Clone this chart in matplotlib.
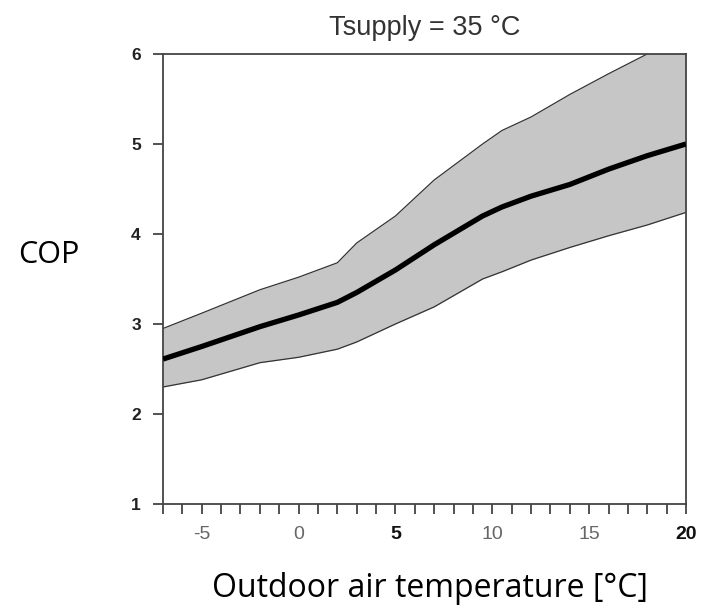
# -*- coding: utf-8 -*-
import numpy as np
import matplotlib
matplotlib.use('Agg')
import matplotlib.pyplot as plt

# outdoor temperature [°C] and COP band
t_out = [-7, -5, -2, 0, 2, 3, 5, 7, 9.5, 10.5, 12, 14, 16, 18, 20]
cop_upper = [2.95, 3.12, 3.38, 3.52, 3.68, 3.9, 4.2, 4.6, 5.0, 5.15, 5.3, 5.55, 5.78, 6.0, 6.3]
cop_mean = [2.61, 2.75, 2.97, 3.1, 3.24, 3.35, 3.6, 3.88, 4.2, 4.3, 4.42, 4.55, 4.72, 4.87, 5.0]
cop_lower = [2.3, 2.38, 2.57, 2.63, 2.72, 2.8, 3.0, 3.19, 3.5, 3.58, 3.71, 3.85, 3.98, 4.1, 4.24]

x_labels = [-5, 0, 5, 10, 15, 20]
y_labels = [1, 2, 3, 4, 5, 6]

fig = plt.figure(figsize=(7.02, 6.10), dpi=100)
ax = fig.add_axes([0.2322, 0.1738, 0.745, 0.7377])

ax.fill_between(t_out, cop_lower, cop_upper, color='#c6c6c6', lw=0, zorder=1)
ax.plot(t_out, cop_upper, color='#333333', lw=0.9, zorder=2)
ax.plot(t_out, cop_lower, color='#333333', lw=0.9, zorder=2)
ax.plot(t_out, cop_mean, color='black', lw=3.8, solid_capstyle='butt', zorder=3)

ax.set_xlim(-7, 20)
ax.set_ylim(1, 6)

for s in ax.spines.values():
    s.set_color('#444444')
    s.set_linewidth(1.3)

ax.set_xticks(np.arange(-7, 21, 1), minor=True)
ax.set_xticks(x_labels)
ax.set_yticks(y_labels)
ax.tick_params(axis='both', which='both', direction='out', color='#444444', width=1.3)
ax.tick_params(axis='x', which='both', length=7, pad=9)
ax.tick_params(axis='y', length=7, pad=9)
ax.tick_params(top=False, right=False)

ax.set_xticklabels([str(v) for v in x_labels], fontfamily='Liberation Sans', fontsize=14)
for lbl in ax.get_xticklabels():
    if lbl.get_text() in ('5', '20'):
        lbl.set_fontweight('bold')
        lbl.set_color('#111111')
    else:
        lbl.set_color('#666666')
ax.set_yticklabels([str(v) for v in y_labels], fontfamily='Liberation Sans',
                   fontsize=12.5, fontweight='bold', color='#222222')

ax.set_title('Tsupply = 35 °C', fontfamily='Liberation Sans', fontsize=19.5,
             color='#333333', pad=14)

fig.text(0.069, 0.582, 'COP', fontfamily='Open Sans', fontsize=22,
         ha='center', va='center', color='black')
fig.text(0.612, 0.036, 'Outdoor air temperature [°C]', fontfamily='Open Sans',
         fontsize=23, ha='center', va='center', color='black')

fig.savefig('out.png', dpi=100)
plt.close(fig)
